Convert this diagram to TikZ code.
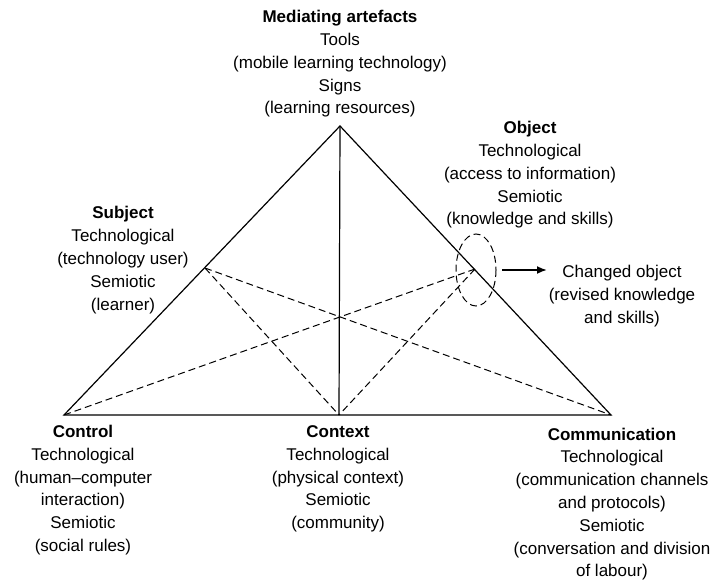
\documentclass[tikz,border=0pt]{standalone}
\usepackage{fontspec}
\setmainfont{Liberation Sans}
\usetikzlibrary{arrows.meta}
\begin{document}
\begin{tikzpicture}[x=1pt,y=-1pt,
  lbl/.style={align=center, font=\fontsize{17}{22.8}\selectfont, inner sep=0pt},
  edgeline/.style={line width=1.2pt, line join=miter},
  dsh/.style={line width=1pt, dash pattern=on 7pt off 4pt}]
\useasboundingbox (0,0) rectangle (714,580);
\coordinate (A) at (340,126);
\coordinate (L) at (64,415);
\coordinate (R) at (611,415);
\coordinate (C) at (339,415);
\coordinate (S) at (205,268);
\coordinate (O) at (475,269);
\coordinate (ell) at (476,270);
\coordinate (arrS) at (502,270);
\coordinate (arrE) at (547,270);
% triangle
\draw[edgeline] (L) -- (A) -- (R) -- cycle;
\draw[edgeline] (A) -- (C);
% dashed
\draw[dsh] (S) -- (C);
\draw[dsh] (S) -- (R);
\draw[dsh] (O) -- (L);
\draw[dsh] (O) -- (C);
\draw[dsh] (ell) ellipse [x radius=20, y radius=36];
\draw[line width=1.8pt, -{Latex[length=10pt,width=8pt]}] (arrS) -- (arrE);
% labels
\node[lbl] (med) at (340,64) {\textbf{Mediating artefacts}\\Tools\\(mobile learning technology)\\Signs\\(learning resources)};
\node[lbl] (obj) at (530,175) {\textbf{Object}\\Technological\\(access to information)\\Semiotic\\(knowledge and skills)};
\node[lbl] (sub) at (123,260) {\textbf{Subject}\\Technological\\(technology user)\\Semiotic\\(learner)};
\node[lbl] (chg) at (622,296) {Changed object\\(revised knowledge\\and skills)};
\node[lbl] (ctl) at (83,490) {\textbf{Control}\\Technological\\(human--computer\\interaction)\\Semiotic\\(social rules)};
\node[lbl] (ctx) at (338,479) {\textbf{Context}\\Technological\\(physical context)\\Semiotic\\(community)};
\node[lbl] (com) at (612,504) {\textbf{Communication}\\Technological\\(communication channels\\and protocols)\\Semiotic\\(conversation and division\\of labour)};
\end{tikzpicture}
\end{document}
